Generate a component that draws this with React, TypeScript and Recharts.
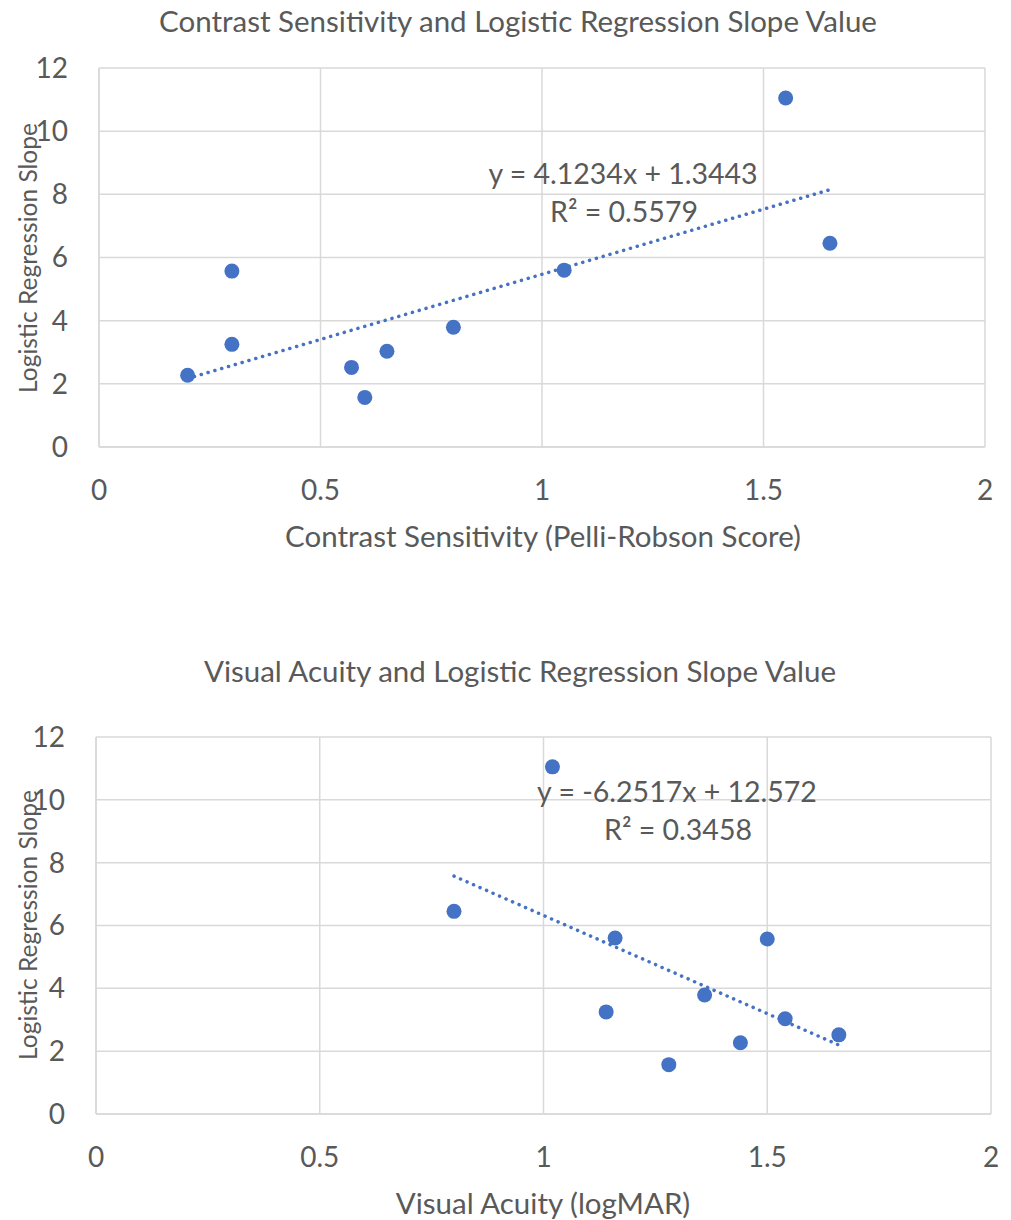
import React from 'react';
import { ScatterChart, Scatter, XAxis, YAxis, CartesianGrid } from 'recharts';

// ---- data ----
const slopeValues = [11.05, 6.45, 5.6, 5.57, 3.79, 3.25, 3.03, 2.52, 2.27, 1.57];
const contrastSensitivity = [1.55, 1.65, 1.05, 0.3, 0.8, 0.3, 0.65, 0.57, 0.2, 0.6];
const visualAcuity = [1.02, 0.8, 1.16, 1.5, 1.36, 1.14, 1.54, 1.66, 1.44, 1.28];

const xTicks = [0, 0.5, 1, 1.5, 2];
const yTicks = [0, 2, 4, 6, 8, 10, 12];

// trend line endpoints (from the displayed regression equations)
const trendCS = [
  { x: 0.2, y: 2.169 },
  { x: 1.65, y: 8.148 },
];
const trendVA = [
  { x: 0.8, y: 7.571 },
  { x: 1.66, y: 2.194 },
];

const titleCS = 'Contrast Sensitivity and Logistic Regression Slope Value';
const titleVA = 'Visual Acuity and Logistic Regression Slope Value';
const xLabelCS = 'Contrast Sensitivity (Pelli-Robson Score)';
const xLabelVA = 'Visual Acuity (logMAR)';
const yLabel = 'Logistic Regression Slope';
const eqCS = ['y = 4.1234x + 1.3443', 'R² = 0.5579'];
const eqVA = ['y = -6.2517x + 12.572', 'R² = 0.3458'];

const csData = contrastSensitivity.map((x, i) => ({ x, y: slopeValues[i] }));
const vaData = visualAcuity.map((x, i) => ({ x, y: slopeValues[i] }));

const BLUE = '#4472C4';
const TEXT = '#595959';
const GRID = '#d9d9d9';
const FONT = 'Lato, "Open Sans", sans-serif';

const Dot = (props: any) => {
  const { cx, cy } = props;
  if (cx == null || cy == null) return null;
  return <circle cx={cx} cy={cy} r={7.5} fill={BLUE} />;
};
const NoShape = () => null;

const fmt = (v: number) => String(v);

const Txt = ({ x, y, size, children, rotate }: any) => (
  <div
    style={{
      position: 'absolute',
      left: x,
      top: y,
      transform: `translate(-50%, -50%)${rotate ? ' rotate(-90deg)' : ''}`,
      fontSize: size,
      lineHeight: 1,
      color: TEXT,
      whiteSpace: 'nowrap',
      fontFamily: FONT,
    }}
  >
    {children}
  </div>
);

const Chart = ({ data, trend, height, margin, yWidth, xHeight }: any) => (
  <ScatterChart width={1011} height={height} margin={margin}>
    <CartesianGrid stroke={GRID} strokeWidth={1.5} />
    <XAxis
      type="number"
      dataKey="x"
      domain={[0, 2]}
      ticks={xTicks}
      tickFormatter={fmt}
      height={xHeight}
      axisLine={{ stroke: GRID, strokeWidth: 1.5 }}
      tickLine={false}
      tickSize={0}
      tickMargin={33}
      tick={{ fill: TEXT, fontSize: 28, fontFamily: FONT }}
      interval={0}
    />
    <YAxis
      type="number"
      dataKey="y"
      domain={[0, 12]}
      ticks={yTicks}
      width={yWidth}
      axisLine={{ stroke: GRID, strokeWidth: 1.5 }}
      tickLine={false}
      tickSize={0}
      tickMargin={31}
      tick={{ fill: TEXT, fontSize: 28, fontFamily: FONT }}
      interval={0}
    />
    <Scatter
      data={trend}
      shape={NoShape}
      line={{ stroke: BLUE, strokeWidth: 3.5, strokeDasharray: '0.1 7', strokeLinecap: 'round' }}
      lineType="joint"
      isAnimationActive={false}
    />
    <Scatter data={data} shape={Dot} fill={BLUE} isAnimationActive={false} />
  </ScatterChart>
);

export default function App() {
  return (
    <div
      style={{
        position: 'absolute',
        left: 0,
        top: 0,
        width: 1011,
        height: 1220,
        background: '#fff',
        fontFamily: FONT,
      }}
    >
      <div style={{ position: 'absolute', left: 0, top: 0 }}>
        <Chart
          data={csData}
          trend={trendCS}
          height={600}
          margin={{ top: 68, right: 26, left: 0, bottom: 0 }}
          yWidth={99}
          xHeight={153}
        />
      </div>
      <div style={{ position: 'absolute', left: 0, top: 600 }}>
        <Chart
          data={vaData}
          trend={trendVA}
          height={620}
          margin={{ top: 137, right: 20, left: 0, bottom: 0 }}
          yWidth={96}
          xHeight={106}
        />
      </div>

      <Txt x={518} y={21} size={29.5}>{titleCS}</Txt>
      <Txt x={543} y={536} size={29.5}>{xLabelCS}</Txt>
      <Txt x={28} y={258} size={24.5} rotate>{yLabel}</Txt>
      <Txt x={623} y={173} size={28.5}>{eqCS[0]}</Txt>
      <Txt x={624} y={211} size={28.5}>{eqCS[1]}</Txt>

      <Txt x={520} y={671} size={29.5}>{titleVA}</Txt>
      <Txt x={543} y={1203} size={29.5}>{xLabelVA}</Txt>
      <Txt x={28} y={925} size={24.5} rotate>{yLabel}</Txt>
      <Txt x={677} y={791} size={28.5}>{eqVA[0]}</Txt>
      <Txt x={678} y={829} size={28.5}>{eqVA[1]}</Txt>
    </div>
  );
}
